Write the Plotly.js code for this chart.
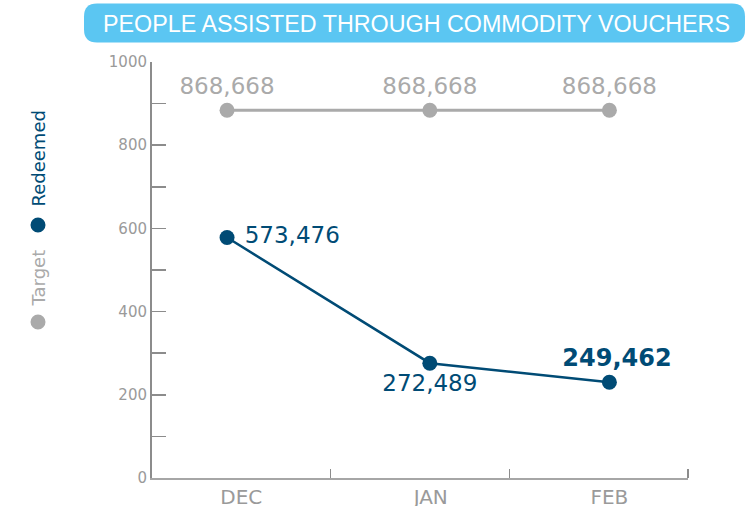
<!DOCTYPE html>
<html>
<head>
<meta charset="utf-8">
<script src="https://cdn.plot.ly/plotly-3.0.1.min.js"></script>
<style>html,body{margin:0;padding:0;background:#fff;}#chart{width:747px;height:506px;}</style>
</head>
<body>
<div id="chart"></div>
<script>
// ---- data ----
const chartTitle = 'PEOPLE ASSISTED THROUGH COMMODITY VOUCHERS';
const months = ['DEC', 'JAN', 'FEB'];
const monthLabelPos = [0.5, 1.56, 2.56];       // x positions of month labels
const pointPos = [0.42, 1.555, 2.56];          // x positions of the points
const monthBounds = [1, 2, 3];                 // x-axis tick marks between months
const targetValues = [884, 884, 884];          // plotted height (thousands)
const redeemedValues = [578, 276, 230];        // plotted height (thousands)
const targetLabels = ['868,668', '868,668', '868,668'];
const redeemedLabels = ['573,476', '272,489', '249,462'];
const yTickVals = [0, 200, 400, 600, 800, 1000];
const seriesNames = ['Target', 'Redeemed'];

// ---- styles ----
const TARGET_COLOR = '#aaaaaa';
const REDEEMED_COLOR = '#004b75';
const TITLE_BG = '#5bc6f2';
const AXIS_COLOR = '#8c8c8c';
const TICKTEXT_COLOR = '#9a9a9a';
const FONT = 'DejaVu Sans, Verdana, sans-serif';

const lastIdx = redeemedLabels.length - 1;

const traces = [
  {
    x: pointPos, y: targetValues, name: seriesNames[0],
    type: 'scatter', mode: 'lines+markers+text',
    line: {color: TARGET_COLOR, width: 3},
    marker: {color: TARGET_COLOR, size: 15},
    text: targetLabels, textposition: 'top center',
    textfont: {family: FONT, size: 23, color: TARGET_COLOR},
    cliponaxis: false, hoverinfo: 'skip'
  },
  {
    x: pointPos, y: redeemedValues, name: seriesNames[1],
    type: 'scatter', mode: 'lines+markers+text',
    line: {color: REDEEMED_COLOR, width: 2.5},
    marker: {color: REDEEMED_COLOR, size: 15},
    text: redeemedLabels.map((t, i) => i === lastIdx ? '\u00a0\u00a0<b>' + t + '</b>' : (i === 0 ? '\u00a0' + t : t)),
    textposition: ['middle right', 'bottom center', 'top center'],
    textfont: {family: FONT, size: redeemedLabels.map((t, i) => i === lastIdx ? 24 : 23), color: REDEEMED_COLOR},
    cliponaxis: false, hoverinfo: 'skip'
  }
];

// rounded title box (pixels relative to top-left of plot area, y up)
function roundedRect(x0, y0, x1, y1, r) {
  return `M ${x0 + r},${y1} L ${x1 - r},${y1} Q ${x1},${y1} ${x1},${y1 - r} L ${x1},${y0 + r} Q ${x1},${y0} ${x1 - r},${y0} ` +
         `L ${x0 + r},${y0} Q ${x0},${y0} ${x0},${y0 + r} L ${x0},${y1 - r} Q ${x0},${y1} ${x0 + r},${y1} Z`;
}

const shapes = [
  {
    type: 'path', xref: 'paper', yref: 'paper', xsizemode: 'pixel', ysizemode: 'pixel',
    xanchor: 0, yanchor: 1, path: roundedRect(-68, 19.5, 593, 58.5, 13),
    fillcolor: TITLE_BG, line: {width: 0}, layer: 'below'
  },
  // legend markers
  {type: 'circle', xref: 'paper', yref: 'paper', xsizemode: 'pixel', ysizemode: 'pixel',
   xanchor: 0, yanchor: 0, x0: -121.5, x1: -106.5, y0: 148.5, y1: 163.5,
   fillcolor: TARGET_COLOR, line: {width: 0}},
  {type: 'circle', xref: 'paper', yref: 'paper', xsizemode: 'pixel', ysizemode: 'pixel',
   xanchor: 0, yanchor: 0, x0: -121.5, x1: -106.5, y0: 245.5, y1: 260.5,
   fillcolor: REDEEMED_COLOR, line: {width: 0}}
];

const annotations = [
  {text: chartTitle, xref: 'paper', yref: 'paper', x: 0.4935, y: 1, yshift: 38.5,
   xanchor: 'center', yanchor: 'middle', showarrow: false,
   font: {family: 'Liberation Sans, Arial, sans-serif', size: 23.3, color: '#ffffff'}},
  {text: seriesNames[0], xref: 'paper', yref: 'paper', x: 0, y: 0, xshift: -114, yshift: 199.5,
   xanchor: 'center', yanchor: 'middle', textangle: -90, showarrow: false,
   font: {family: FONT, size: 18, color: TARGET_COLOR}},
  {text: seriesNames[1], xref: 'paper', yref: 'paper', x: 0, y: 0, xshift: -114, yshift: 319.5,
   xanchor: 'center', yanchor: 'middle', textangle: -90, showarrow: false,
   font: {family: FONT, size: 18, color: REDEEMED_COLOR}}
];

const layout = {
  width: 747, height: 506,
  margin: {l: 152, r: 59, t: 62, b: 28, pad: 0},
  paper_bgcolor: '#ffffff', plot_bgcolor: '#ffffff',
  showlegend: false,
  font: {family: FONT, color: TICKTEXT_COLOR},
  xaxis: {
    range: [0, 3], fixedrange: true,
    tickmode: 'array', tickvals: monthLabelPos, ticktext: months,
    ticks: '', ticklen: 0,
    tickfont: {family: FONT, size: 20, color: TICKTEXT_COLOR},
    ticklabelstandoff: 0,
    showline: true, linecolor: '#a6a6a6', linewidth: 2,
    showgrid: false, zeroline: false,
    minor: {tickmode: 'array', tickvals: monthBounds, ticks: 'inside', ticklen: 9, tickwidth: 1.5, tickcolor: AXIS_COLOR, showgrid: false}
  },
  yaxis: {
    range: [0, 1000], fixedrange: true,
    tickmode: 'array', tickvals: yTickVals,
    ticks: 'inside', ticklen: 14, tickwidth: 1.5, tickcolor: AXIS_COLOR,
    tickfont: {family: FONT, size: 15, color: TICKTEXT_COLOR},
    showline: true, linecolor: AXIS_COLOR, linewidth: 2,
    showgrid: false, zeroline: false,
    minor: {tickmode: 'linear', tick0: 0, dtick: 100, ticks: 'inside', ticklen: 14, tickwidth: 1.5, tickcolor: AXIS_COLOR, showgrid: false}
  },
  shapes: shapes,
  annotations: annotations
};

Plotly.newPlot('chart', traces, layout, {displayModeBar: false, staticPlot: true});
</script>
</body>
</html>
